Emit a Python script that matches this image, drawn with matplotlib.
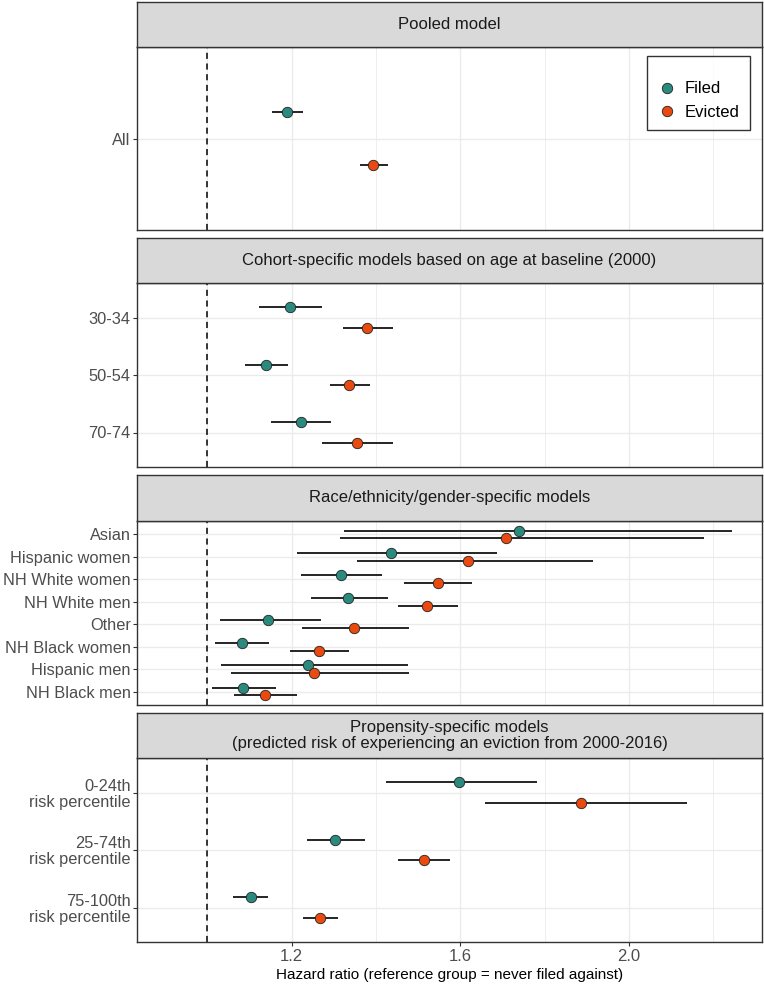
import numpy as np
import matplotlib
matplotlib.use('Agg')
import matplotlib.pyplot as plt
from matplotlib.lines import Line2D
from matplotlib.ticker import FixedLocator

plt.rcParams['font.family'] = ['Liberation Sans', 'DejaVu Sans']

# === Data (hazard ratios with 95% CI) ===
panel_titles = ['Pooled model',
                'Cohort-specific models based on age at baseline (2000)',
                'Race/ethnicity/gender-specific models',
                'Propensity-specific models\n(predicted risk of experiencing an eviction from 2000-2016)']

pooled_labels = ['All']
pooled_filed = [1.188]
pooled_filed_lo = [1.153]
pooled_filed_hi = [1.226]
pooled_evict = [1.394]
pooled_evict_lo = [1.361]
pooled_evict_hi = [1.429]

cohort_labels = ['30-34', '50-54', '70-74']
cohort_filed = [1.195, 1.138, 1.221]
cohort_filed_lo = [1.122, 1.090, 1.151]
cohort_filed_hi = [1.273, 1.191, 1.293]
cohort_evict = [1.379, 1.336, 1.355]
cohort_evict_lo = [1.321, 1.290, 1.273]
cohort_evict_hi = [1.441, 1.385, 1.441]

race_labels = ['Asian', 'Hispanic women', 'NH White women', 'NH White men',
               'Other', 'NH Black women', 'Hispanic men', 'NH Black men']
race_filed = [1.740, 1.436, 1.317, 1.333, 1.144, 1.081, 1.238, 1.084]
race_filed_lo = [1.325, 1.213, 1.222, 1.245, 1.030, 1.019, 1.032, 1.010]
race_filed_hi = [2.244, 1.688, 1.414, 1.428, 1.269, 1.147, 1.475, 1.163]
race_evict = [1.708, 1.618, 1.547, 1.521, 1.347, 1.265, 1.254, 1.137]
race_evict_lo = [1.314, 1.356, 1.466, 1.452, 1.225, 1.197, 1.056, 1.064]
race_evict_hi = [2.178, 1.916, 1.629, 1.595, 1.479, 1.336, 1.478, 1.213]

prop_labels = ['0-24th\nrisk percentile', '25-74th\nrisk percentile', '75-100th\nrisk percentile']
prop_filed = [1.596, 1.304, 1.103]
prop_filed_lo = [1.423, 1.237, 1.060]
prop_filed_hi = [1.782, 1.375, 1.145]
prop_evict = [1.886, 1.513, 1.267]
prop_evict_lo = [1.658, 1.452, 1.228]
prop_evict_hi = [2.138, 1.576, 1.309]

panels = [
    (pooled_labels, pooled_filed, pooled_filed_lo, pooled_filed_hi, pooled_evict, pooled_evict_lo, pooled_evict_hi),
    (cohort_labels, cohort_filed, cohort_filed_lo, cohort_filed_hi, cohort_evict, cohort_evict_lo, cohort_evict_hi),
    (race_labels, race_filed, race_filed_lo, race_filed_hi, race_evict, race_evict_lo, race_evict_hi),
    (prop_labels, prop_filed, prop_filed_lo, prop_filed_hi, prop_evict, prop_evict_lo, prop_evict_hi),
]

col_filed = '#2b8a7e'
col_evict = '#e84a0f'

# === Layout (pixel positions) ===
W, H = 764, 984
left_px, right_px = 137, 762
strips = [(2, 47), (238, 283), (475, 521), (713, 758)]
plots = [(47, 230), (283, 467), (521, 705), (758, 942)]
dodge = 0.175

fig = plt.figure(figsize=(W / 100, H / 100), dpi=100)

for k, (labs, f, flo, fhi, e, elo, ehi) in enumerate(panels):
    top, bot = plots[k]
    ax = fig.add_axes([left_px / W, 1 - bot / H, (right_px - left_px) / W, (bot - top) / H])
    n = len(labs)
    ypos = np.arange(n, 0, -1)

    ax.set_xlim(0.833, 2.316)
    ax.set_ylim(0.4, n + 0.6)
    ax.xaxis.set_major_locator(FixedLocator([1.2, 1.6, 2.0]))
    ax.xaxis.set_minor_locator(FixedLocator([1.0, 1.4, 1.8, 2.2]))
    ax.set_yticks(ypos)
    ax.set_yticklabels(labs, linespacing=1.05)
    ax.grid(True, which='major', color='#ebebeb', lw=1.0, zorder=0)
    ax.grid(True, which='minor', axis='x', color='#ebebeb', lw=0.6, zorder=0)
    ax.set_axisbelow(True)
    ax.axvline(1.0, color='black', ls=(0, (4, 3)), lw=1.1, zorder=1)

    ax.hlines(ypos + dodge, flo, fhi, color='black', lw=1.2, zorder=2)
    ax.hlines(ypos - dodge, elo, ehi, color='black', lw=1.2, zorder=2)
    ax.plot(f, ypos + dodge, 'o', ms=7.5, mfc=col_filed, mec='#222222', mew=0.6, zorder=3)
    ax.plot(e, ypos - dodge, 'o', ms=7.5, mfc=col_evict, mec='#222222', mew=0.6, zorder=3)

    ax.tick_params(axis='y', which='major', length=3, color='#333333', labelsize=11.8,
                   labelcolor='#4d4d4d', pad=1.5)
    ax.tick_params(axis='x', which='minor', length=0)
    if k < 3:
        ax.tick_params(axis='x', which='major', length=0, labelbottom=False)
    else:
        ax.tick_params(axis='x', which='major', length=3, color='#333333', labelsize=12,
                       labelcolor='#4d4d4d', pad=2)
        ax.set_xlabel('Hazard ratio (reference group = never filed against)', fontsize=11,
                      labelpad=3)
    for s in ax.spines.values():
        s.set_color('#333333')
        s.set_linewidth(1.0)

    # strip
    st, sb = strips[k]
    sax = fig.add_axes([left_px / W, 1 - sb / H, (right_px - left_px) / W, (sb - st) / H])
    sax.set_xticks([])
    sax.set_yticks([])
    sax.set_facecolor('#d9d9d9')
    for s in sax.spines.values():
        s.set_color('#333333')
        s.set_linewidth(1.0)
    sax.text(0.5, 0.5, panel_titles[k], ha='center', va='center', fontsize=12,
             color='#1a1a1a', transform=sax.transAxes, linespacing=1.05)

    if k == 0:
        handles = [Line2D([], [], marker='o', ls='', ms=7.5, mfc=col_filed, mec='#222222', mew=0.6),
                   Line2D([], [], marker='o', ls='', ms=7.5, mfc=col_evict, mec='#222222', mew=0.6)]
        leg = ax.legend(handles, ['Filed', 'Evicted'], loc='upper right',
                        bbox_to_anchor=(750 / W, 1 - 56 / H), bbox_transform=fig.transFigure,
                        borderaxespad=0, fontsize=12, frameon=True, fancybox=False,
                        title=' ', title_fontsize=6,
                        handletextpad=0.5, borderpad=0.6, labelspacing=0.5, handlelength=1.2)
        leg.get_frame().set_edgecolor('black')
        leg.get_frame().set_linewidth(1.0)

fig.savefig('out.png', dpi=100)
